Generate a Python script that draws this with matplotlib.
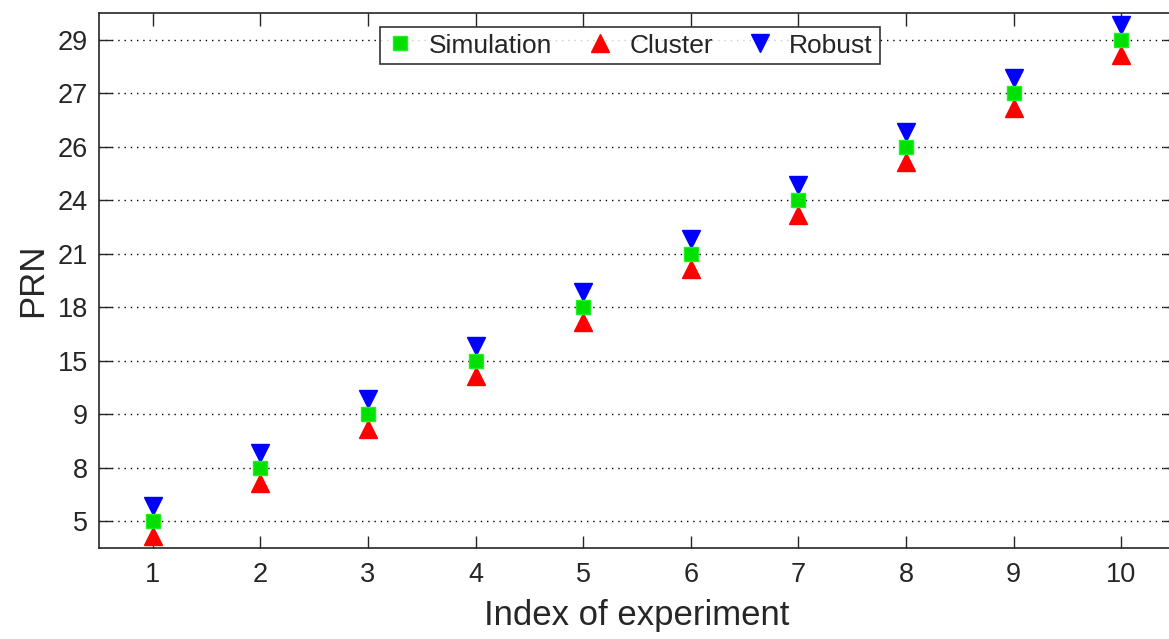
import matplotlib
matplotlib.use("Agg")
import matplotlib.pyplot as plt
import numpy as np

plt.rcParams["font.family"] = ["Liberation Sans", "DejaVu Sans"]

# PRN labels on the categorical y axis (one per experiment)
prn_ticks = [5, 8, 9, 15, 18, 21, 24, 26, 27, 29]
experiments = [1, 2, 3, 4, 5, 6, 7, 8, 9, 10]

# detected PRN per method and experiment
sim_prn = [5, 8, 9, 15, 18, 21, 24, 26, 27, 29]
cluster_prn = [5, 8, 9, 15, 18, 21, 24, 26, 27, 29]
robust_prn = [5, 8, 9, 15, 18, 21, 24, 26, 27, 29]

INK = "#262626"


def to_pos(vals):
    return np.array([prn_ticks.index(v) + 1 for v in vals], dtype=float)


fig = plt.figure(figsize=(11.69, 6.39), dpi=100, facecolor="white")
# right edge of the axes runs slightly past the image, as in the source
ax = fig.add_axes([99 / 1169, 1 - 548 / 639, (1175 - 99) / 1169, (548 - 13) / 639])

ax.plot(experiments, to_pos(sim_prn), ls="none", marker="s", ms=10,
        color="#00e000", mec="#20f020", label="Simulation", zorder=4)
ax.plot(experiments, to_pos(cluster_prn) - 0.28, ls="none", marker="^", ms=13,
        color="#ff0000", mec="#ff0000", label="Cluster", zorder=3)
ax.plot(experiments, to_pos(robust_prn) + 0.28, ls="none", marker="v", ms=13,
        color="#0000ff", mec="#0000ff", label="Robust", zorder=3)

ax.set_xlim(0.5, 10.5)
ax.set_ylim(0.5, 10.5)
ax.set_xticks(experiments)
ax.set_yticks(np.arange(1, len(prn_ticks) + 1))
ax.set_yticklabels([str(v) for v in prn_ticks])

ax.yaxis.grid(True, ls=(0, (1, 3.5)), color="black", lw=1.0)
ax.set_axisbelow(True)
ax.tick_params(direction="in", length=9, width=1.0, top=True, right=True,
               labelsize=19.5, colors=INK, pad=10)
ax.tick_params(axis="y", pad=8)
for s in ax.spines.values():
    s.set_color(INK)
    s.set_linewidth(1.2)

ax.set_xlabel("Index of experiment", fontsize=25, color=INK, labelpad=8)
ax.set_ylabel("PRN", fontsize=25, color=INK, labelpad=6)

leg = ax.legend(loc="upper center", bbox_to_anchor=((630 - 99) / 1076, 1 - 14 / 535),
                ncol=3, fontsize=19, frameon=True, fancybox=False,
                edgecolor="black", handlelength=1.0, handletextpad=0.6,
                columnspacing=1.3, borderpad=0.25, borderaxespad=0)
leg.get_frame().set_linewidth(1.2)
for t in leg.get_texts():
    t.set_color(INK)

fig.savefig("out.png", dpi=100)
